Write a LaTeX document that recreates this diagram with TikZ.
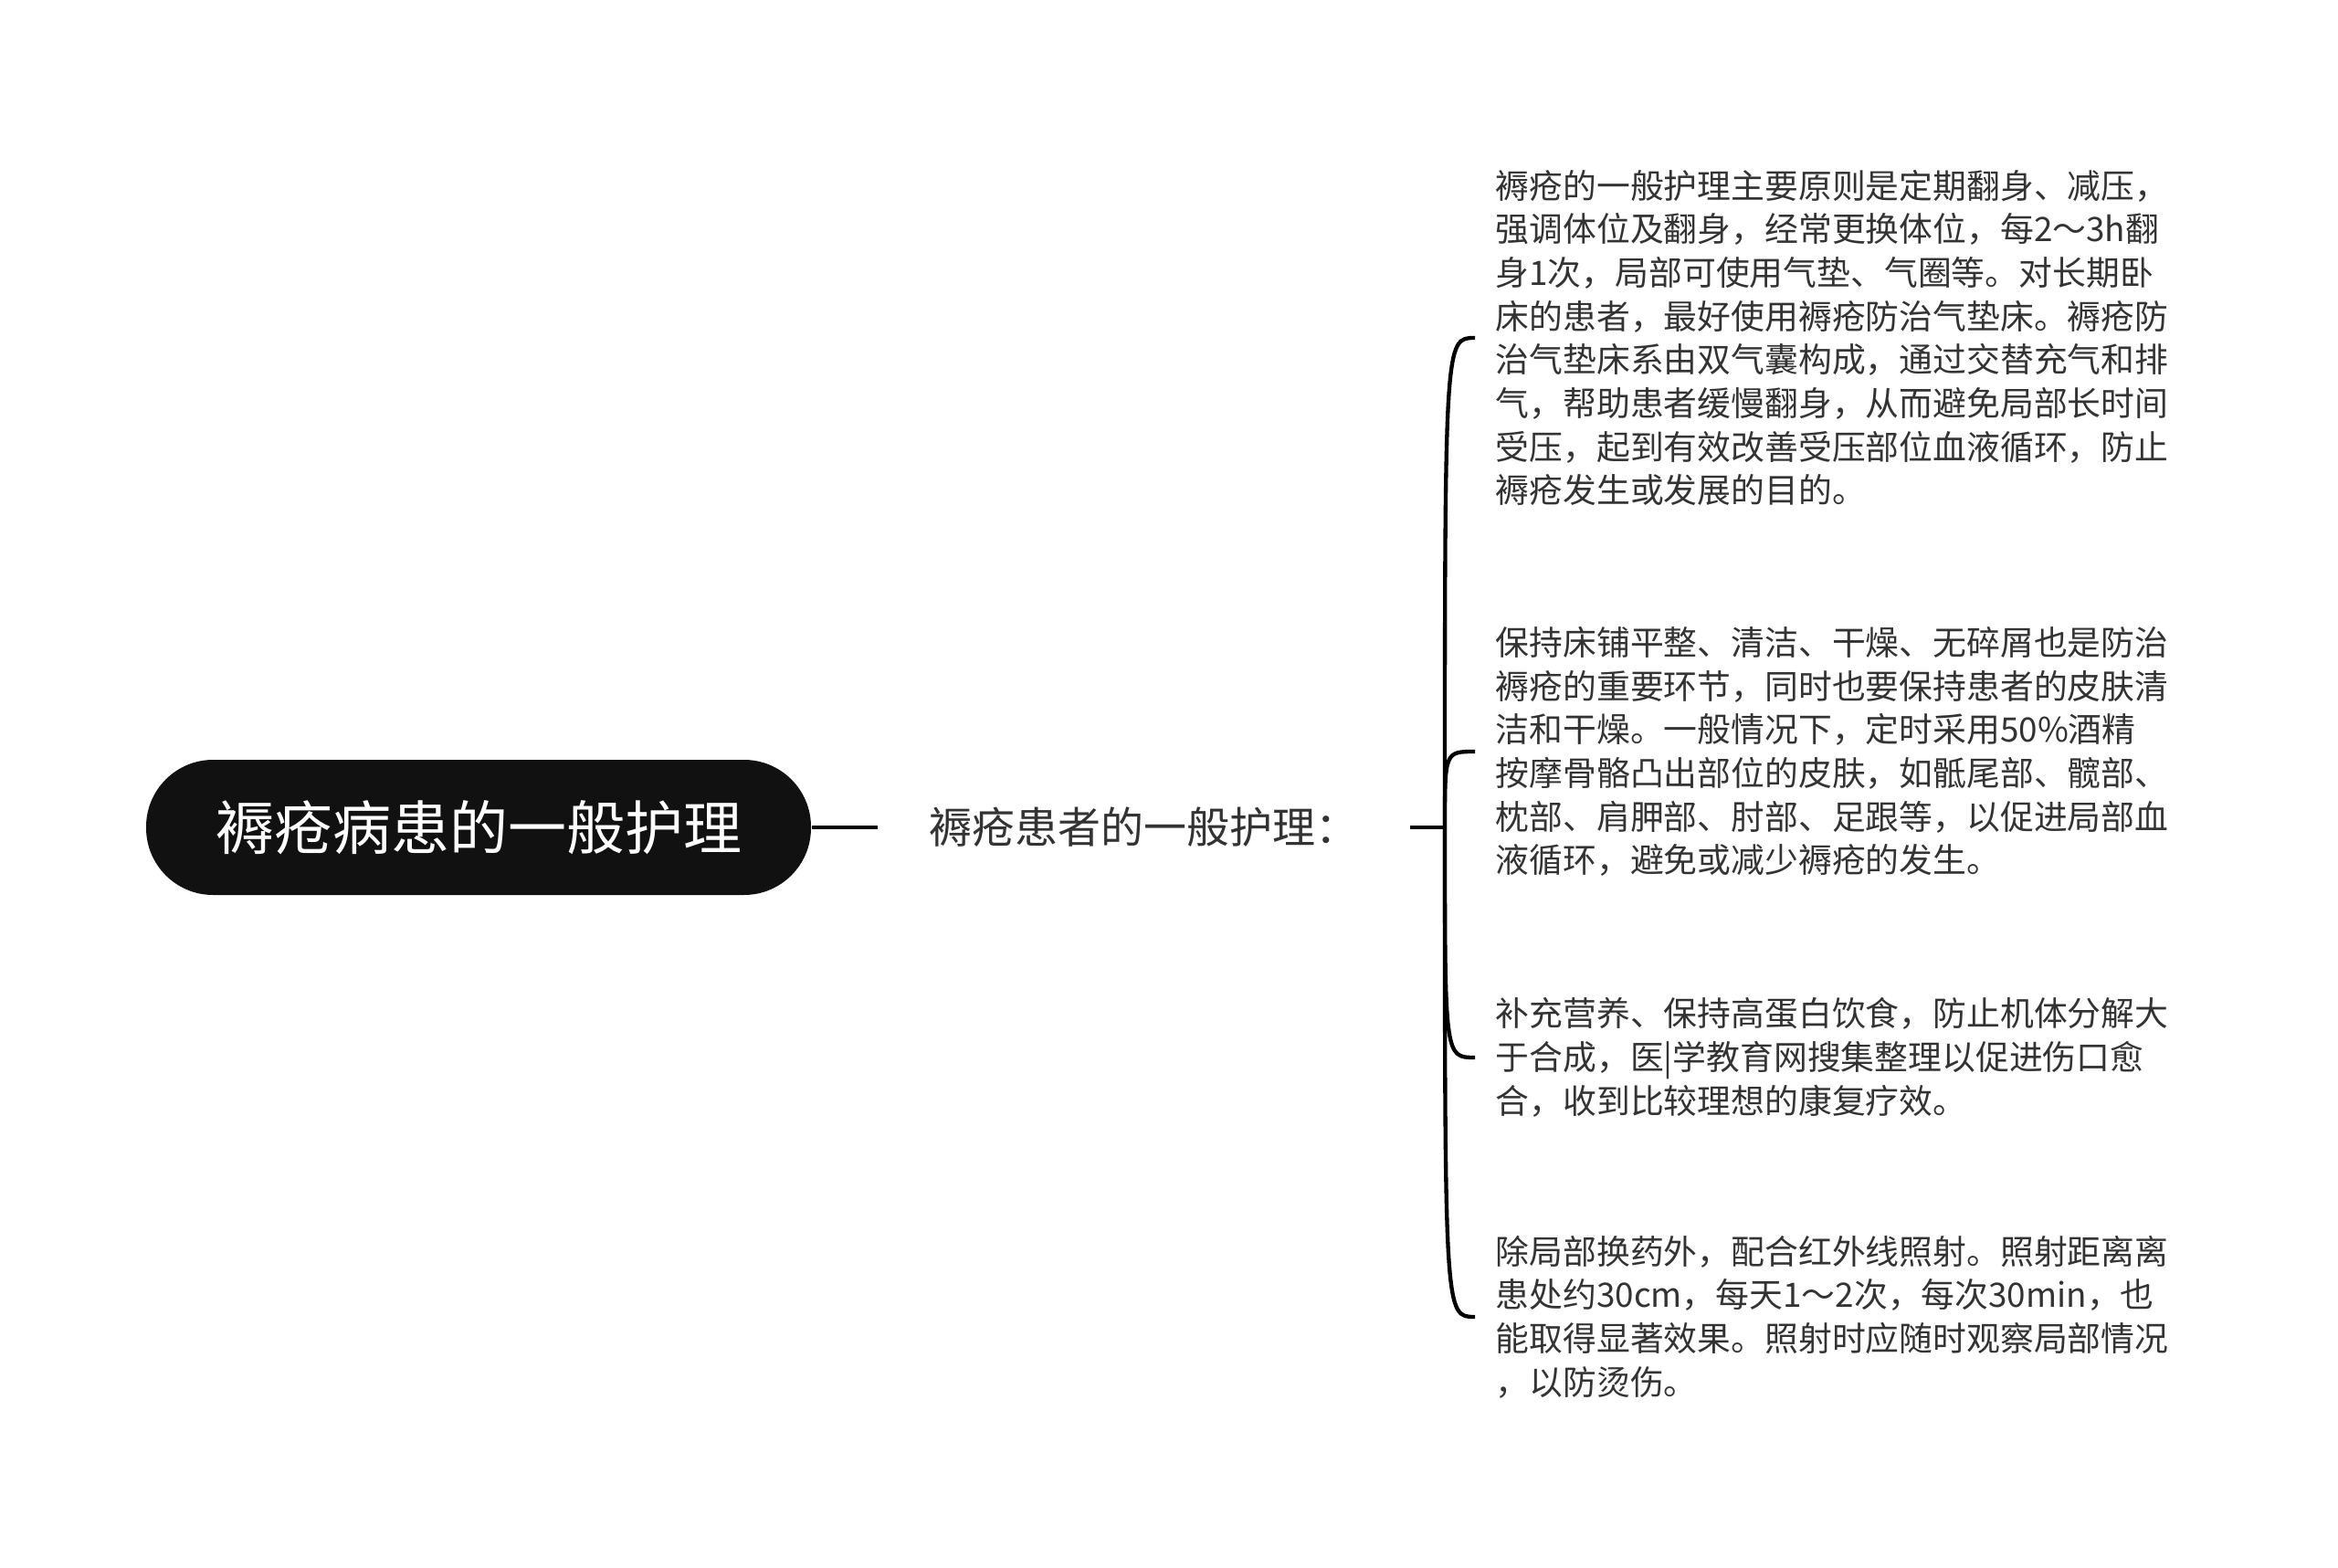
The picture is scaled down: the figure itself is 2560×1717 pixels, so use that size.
\documentclass[tikz,border=0pt]{standalone}
\usepackage{fontspec}
\setmainfont{Noto Sans CJK SC}
\usetikzlibrary{positioning}
\definecolor{rootfill}{HTML}{111111}
\definecolor{textgray}{HTML}{333333}
\tikzset{
  root/.style={fill=rootfill, text=white, rounded corners=22pt, minimum width=218.4pt, minimum height=44.4pt, font=\fontsize{19.2}{23}\selectfont},
  branch/.style={text=textgray, inner xsep=16.8pt, font=\fontsize{14.1}{17}\selectfont},
  leaf/.style={text=textgray, anchor=west, align=left, inner xsep=6.6pt, font=\fontsize{11.05}{14.3}\selectfont},
  link/.style={draw=black, line width=1.3pt},
}

\begin{document}
\begin{tikzpicture}
      [x=0.3pt, y=-0.3pt]
      \useasboundingbox (0,0) rectangle (2560,1717);
      \node (root) [root] at (524,906) {褥疮病患的一般护理};
      \node (care) [branch, right=21.6pt of root] {褥疮患者的一般护理：};
      \coordinate (fork) at (1582,906);
      \node (turn) [leaf] at (1615,370) {褥疮的一般护理主要原则是定期翻身、减压，\\强调体位及翻身，经常更换体位，每2～3h翻\\身1次，局部可使用气垫、气圈等。对长期卧\\床的患者，最好使用褥疮防治气垫床。褥疮防\\治气垫床系由双气囊构成，通过交替充气和排\\气，帮助患者缓慢翻身，从而避免局部长时间\\受压，起到有效改善受压部位血液循环，防止\\褥疮发生或发展的目的。};
      \node (bed) [leaf] at (1615,823) {保持床铺平整、清洁、干燥、无碎屑也是防治\\褥疮的重要环节，同时也要保持患者的皮肤清\\洁和干燥。一般情况下，定时采用50\%酒精\\按摩骨骼凸出部位的皮肤，如骶尾部、髋部、\\枕部、肩胛部、肘部、足跟等，以促进局部血\\液循环，避免或减少褥疮的发生。};
      \node (food) [leaf] at (1615,1158) {补充营养、保持高蛋白饮食，防止机体分解大\\于合成，医|学教育网搜集整理以促进伤口愈\\合，收到比较理想的康复疗效。};
      \node (light) [leaf] at (1615,1442) {除局部换药外，配合红外线照射。照射距离离\\患处约30cm，每天1～2次，每次30min，也\\能取得显著效果。照射时应随时观察局部情况\\，以防烫伤。};
      % connectors
      \draw [link] (root.east) -- (care.west);
      \draw [link] (care.east) -- (fork);
      \foreach \leaf in {turn, bed, food, light}
        \draw [link] (fork) .. controls (fork |- \leaf.west) .. (\leaf.west);
    \end{tikzpicture}
\end{document}
